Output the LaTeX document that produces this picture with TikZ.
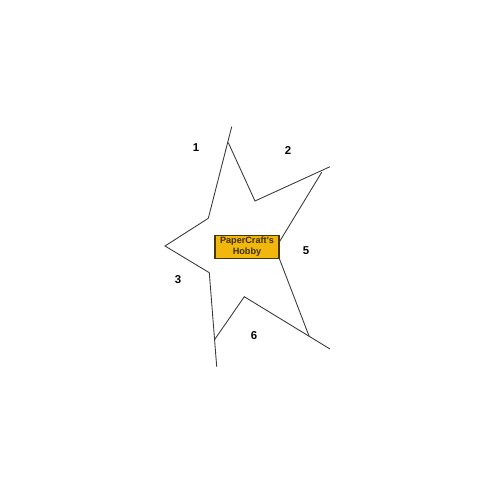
\documentclass[tikz,border=0pt]{standalone}
\usepackage{fontspec}
\setmainfont{Liberation Sans}
\definecolor{hobbygold}{HTML}{F2B70C}
\definecolor{starline}{HTML}{3A3A3A}

\begin{document}
\begin{tikzpicture}[x=0.02cm,y=-0.02cm,
  edge/.style={draw=starline, line width=0.5pt},
  num/.style={font=\bfseries\fontsize{6.5}{7}\selectfont},
  label/.style={draw=black!70!hobbygold, fill=hobbygold, line width=0.6pt,
    minimum width=1.28cm, minimum height=0.47cm, inner sep=0pt, align=center,
    font=\bfseries\fontsize{5.2}{6.2}\selectfont, text=black!75!hobbygold}]
\useasboundingbox (0,0) rectangle (494,494);

% box in the middle
\node[label] (box) at (247,246.8) {PaperCraft's\\Hobby};

% star points
\coordinate (topend)  at (231.7,126.7);
\coordinate (toptip)  at (228.3,142.7);
\coordinate (inTR)    at (255,201);
\coordinate (rtend)   at (330,166.7);
\coordinate (rttip)   at (321.7,172.3);
\coordinate (inTL)    at (208.3,218.3);
\coordinate (lftip)   at (165,246);
\coordinate (inBL)    at (209.3,272.7);
\coordinate (btend)   at (216.7,366.7);
\coordinate (bttip)   at (214.3,340);
\coordinate (inB)     at (244.3,296.7);
\coordinate (brend)   at (330,349);
\coordinate (brtip)   at (309.3,336.7);

% outline
\draw[edge] (inTL) -- (topend);
\draw[edge] (toptip) -- (inTR) -- (rtend);
\draw[edge] (rttip) -- (box.9);
\draw[edge] (inTL) -- (lftip) -- (inBL) -- (btend);
\draw[edge] (bttip) -- (inB) -- (brend);
\draw[edge] (box.south east) -- (brtip);

% numbers
\node[num] (n1) at (196,148) {1};
\node[num] (n2) at (288,151) {2};
\node[num] (n5) at (306,251) {5};
\node[num] (n3) at (178,280) {3};
\node[num] (n6) at (254,336) {6};

\end{tikzpicture}
\end{document}
